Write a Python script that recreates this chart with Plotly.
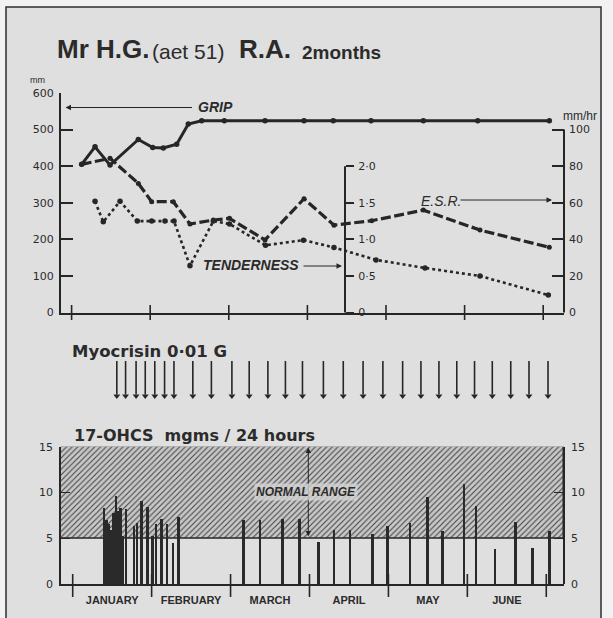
import plotly.graph_objects as go

# ---------------- data ----------------
# x positions are in months after 1 January (0 = 1 Jan, 1 = 1 Feb, ... 6 = 1 Jul)
grip_x = [0.128, 0.298, 0.489, 0.849, 1.032, 1.167, 1.337, 1.485, 1.655, 1.943,
          2.461, 2.957, 3.329, 3.809, 4.475, 5.167, 6.078]
grip_mm = [405, 453, 403, 473, 451, 450, 460, 515, 524, 524,
           524, 524, 524, 524, 524, 524, 524]

esr_x = [0.128, 0.489, 0.849, 1.019, 1.294, 1.506, 1.803, 2.009, 2.461, 2.957,
         3.338, 3.818, 4.475, 5.196, 6.078]
esr_mmhr = [81, 84.3, 70.6, 60.6, 60.6, 48.4, 50.6, 51.5, 39.7, 62.2,
            47.8, 50.2, 56, 45.1, 35.7]

tender_x = [0.298, 0.403, 0.616, 0.836, 1.019, 1.188, 1.303, 1.506, 1.803, 2.009,
            2.467, 2.950, 3.338, 3.873, 4.496, 5.196, 6.065]
tender_idx = [1.52, 1.24, 1.52, 1.25, 1.25, 1.25, 1.25, 0.64, 1.25, 1.21,
              0.92, 0.99, 0.89, 0.72, 0.61, 0.50, 0.24]

myocrisin_x = [0.559, 0.670, 0.803, 0.919, 1.040, 1.164, 1.283, 1.522, 1.757, 2.017,
               2.236, 2.473, 2.695, 2.911, 3.176, 3.428, 3.679, 3.930, 4.180, 4.412,
               4.640, 4.866, 5.091, 5.316, 5.550, 5.781, 6.022]

ohcs_x = [0.397, 0.428, 0.454, 0.485, 0.517, 0.549, 0.574, 0.606, 0.637, 0.675,
          0.777, 0.815, 0.872, 0.948, 1.011, 1.055, 1.125, 1.195, 1.271, 1.340,
          2.161, 2.373, 2.661, 2.871, 3.112, 3.311, 3.513, 3.801, 3.986, 4.273,
          4.498, 4.688, 4.958, 5.110, 5.350, 5.613, 5.828, 6.038]
ohcs_mg = [8.3, 7.0, 6.6, 6.0, 7.8, 9.7, 8.0, 8.4, 5.3, 8.2,
           6.4, 6.7, 9.1, 8.5, 5.3, 6.6, 7.2, 6.6, 4.5, 7.4,
           7.0, 7.0, 7.2, 7.2, 4.6, 5.9, 5.9, 5.5, 6.4, 6.7,
           9.5, 5.8, 11.0, 8.6, 3.9, 6.8, 4.0, 5.8]

normal_range = [5, 15]
month_pos = [0.5, 1.5, 2.5, 3.5, 4.5, 5.5]
month_labels = ["JANUARY", "FEBRUARY", "MARCH", "APRIL", "MAY", "JUNE"]
month_bounds = [0, 1, 2, 3, 4, 5, 6]

grip_ticks = [0, 100, 200, 300, 400, 500, 600]
esr_ticks = [0, 20, 40, 60, 80, 100]
tender_ticks = [0, 0.5, 1.0, 1.5, 2.0]
tender_tick_text = ["0", "0·5", "1·0", "1·5", "2·0"]
ohcs_ticks = [0, 5, 10, 15]

# ---------------- layout geometry (pixels) ----------------
W, H = 613, 618
def PX(x): return x / W
def PY(y): return 1 - y / H

X_L, X_R, X_MID = 61, 564, 345
TOP_X0, TOP_MW = 71.6, 78.6
BOT_X0, BOT_MW = 72.7, 78.93
TOP_Y0, TOP_Y600 = 312.6, 93
BOT_Y0, BOT_Y15 = 584.3, 446.7

top_range = [(X_L - TOP_X0) / TOP_MW, (X_R - TOP_X0) / TOP_MW]
bot_range = [(X_L - BOT_X0) / BOT_MW, (X_R - BOT_X0) / BOT_MW]

INK = '#262626'
TXT = '#2b2b2b'
TICKFONT = dict(family='DejaVu Sans', size=11, color=TXT)

fig = go.Figure()

# ---- top chart ----
fig.add_trace(go.Scatter(x=esr_x, y=esr_mmhr, xaxis='x', yaxis='y2', mode='lines+markers',
                         line=dict(color=INK, width=3.2, dash='10px,3.5px'),
                         marker=dict(size=5, color=INK), hoverinfo='skip'))
fig.add_trace(go.Scatter(x=tender_x, y=tender_idx, xaxis='x', yaxis='y3', mode='lines+markers',
                         line=dict(color=INK, width=2.6, dash='dot'),
                         marker=dict(size=5.5, color=INK), hoverinfo='skip'))
fig.add_trace(go.Scatter(x=grip_x, y=grip_mm, xaxis='x', yaxis='y', mode='lines+markers',
                         line=dict(color=INK, width=3),
                         marker=dict(size=5.5, color=INK), hoverinfo='skip'))

# ---- bottom chart ----
fig.add_trace(go.Bar(x=[(bot_range[0] + bot_range[1]) / 2], y=[normal_range[1] - normal_range[0]],
                     base=[normal_range[0]], width=[bot_range[1] - bot_range[0]],
                     xaxis='x2', yaxis='y4',
                     marker=dict(color='#c8c8c8', line=dict(color=INK, width=1.5),
                                 pattern=dict(shape='/', fgcolor='#454545', bgcolor='#c8c8c8',
                                              size=4, solidity=0.28)),
                     hoverinfo='skip'))
fig.add_trace(go.Bar(x=ohcs_x, y=ohcs_mg, width=0.032, xaxis='x2', yaxis='y4',
                     marker=dict(color='#2a2a2a', line=dict(width=0)), hoverinfo='skip'))
fig.add_trace(go.Scatter(x=[ohcs_x[0]], y=[0], xaxis='x2', yaxis='y5', mode='markers',
                         marker=dict(opacity=0), hoverinfo='skip'))

# ---- myocrisin arrows ----
arr_x, arr_y = [], []
for m in myocrisin_x:
    arr_x += [m, m, None]
    arr_y += [1.0, 0.14, None]
fig.add_trace(go.Scatter(x=arr_x, y=arr_y, xaxis='x2', yaxis='y6', mode='lines',
                         line=dict(color=INK, width=1.6), hoverinfo='skip'))
fig.add_trace(go.Scatter(x=myocrisin_x, y=[0.1] * len(myocrisin_x), xaxis='x2', yaxis='y6',
                         mode='markers', marker=dict(symbol='triangle-down', size=6, color=INK),
                         hoverinfo='skip'))

axis_common = dict(showgrid=False, zeroline=False, fixedrange=True)

fig.update_layout(
    template='none',
    width=W, height=H, margin=dict(l=0, r=0, t=0, b=0),
    paper_bgcolor='#f2f2f2', plot_bgcolor='rgba(0,0,0,0)',
    showlegend=False, hovermode=False, barmode='overlay', bargap=0,
    xaxis=dict(domain=[PX(X_L), PX(X_R)], range=top_range, anchor='y',
               showline=True, linecolor=INK, linewidth=2, ticks='', showticklabels=False,
               **axis_common),
    yaxis=dict(domain=[PY(TOP_Y0), PY(TOP_Y600)], range=[0, 600], anchor='x',
               showline=True, linecolor=INK, linewidth=2,
               ticks='inside', ticklen=12, tickwidth=1.5, tickcolor=INK,
               tickvals=grip_ticks, ticktext=[str(v) for v in grip_ticks],
               tickfont=TICKFONT, ticklabelstandoff=3, **axis_common),
    yaxis2=dict(overlaying='y', side='right', anchor='free', position=PX(X_R),
                range=[0, 120], showline=False,
                ticks='inside', ticklen=12, tickwidth=1.5, tickcolor=INK,
                tickvals=esr_ticks, ticktext=[str(v) for v in esr_ticks],
                tickfont=TICKFONT, ticklabelstandoff=4, **axis_common),
    yaxis3=dict(overlaying='y', side='right', anchor='free', position=PX(X_MID),
                range=[0, 3], showline=False,
                ticks='outside', ticklen=8, tickwidth=1.5, tickcolor=INK,
                tickvals=tender_ticks, ticktext=tender_tick_text,
                tickfont=TICKFONT, ticklabelstandoff=2, **axis_common),
    xaxis2=dict(domain=[PX(X_L), PX(X_R)], range=bot_range, anchor='y4',
                showline=True, linecolor=INK, linewidth=2, ticks='',
                tickvals=month_pos, ticktext=month_labels,
                tickfont=dict(family='Liberation Sans', size=11, color=TXT, weight='bold'),
                ticklabelstandoff=4, **axis_common),
    yaxis4=dict(domain=[PY(BOT_Y0), PY(BOT_Y15)], range=[0, 15], anchor='x2',
                showline=True, linecolor=INK, linewidth=1.5,
                ticks='inside', ticklen=9, tickwidth=1.2, tickcolor=INK,
                tickvals=ohcs_ticks, ticktext=[str(v) for v in ohcs_ticks],
                tickfont=TICKFONT, ticklabelstandoff=4, **axis_common),
    yaxis5=dict(overlaying='y4', side='right', anchor='free', position=PX(X_R),
                range=[0, 15], showline=True, linecolor=INK, linewidth=1.5,
                ticks='inside', ticklen=9, tickwidth=1.2, tickcolor=INK,
                tickvals=ohcs_ticks, ticktext=[str(v) for v in ohcs_ticks],
                tickfont=TICKFONT, ticklabelstandoff=4, **axis_common),
    yaxis6=dict(domain=[PY(400), PY(361)], range=[0, 1], anchor='x2', visible=False,
                **axis_common),
)

# ---------------- decorations ----------------
shapes = []
shapes.append(dict(type='rect', xref='paper', yref='paper', x0=PX(6), y0=PY(7), x1=PX(601), y1=PY(650),
                   fillcolor='#dfdfdf', line=dict(color='#2e2e2e', width=1.5), layer='below'))
top_py = lambda v: TOP_Y0 - v * (TOP_Y0 - TOP_Y600) / 600.0
# ESR axis line (0..100 mm/hr  == 0..500 on grip scale)
shapes.append(dict(type='line', xref='paper', yref='paper', x0=PX(X_R), x1=PX(X_R),
                   y0=PY(TOP_Y0), y1=PY(top_py(500)), line=dict(color=INK, width=2)))
# tenderness axis line (0..2 == 0..400 on grip scale)
shapes.append(dict(type='line', xref='paper', yref='paper', x0=PX(X_MID), x1=PX(X_MID),
                   y0=PY(TOP_Y0), y1=PY(top_py(400)), line=dict(color=INK, width=2)))
for k in month_bounds:
    xt = TOP_X0 + TOP_MW * k
    shapes.append(dict(type='line', xref='paper', yref='paper', x0=PX(xt), x1=PX(xt),
                       y0=PY(305), y1=PY(320), line=dict(color=INK, width=1.6)))
    xb = BOT_X0 + BOT_MW * k
    shapes.append(dict(type='line', xref='paper', yref='paper', x0=PX(xb), x1=PX(xb),
                       y0=PY(574), y1=PY(597), line=dict(color=INK, width=1.6)))
fig.update_layout(shapes=shapes)

def txt(s, x, y, size, family='Liberation Sans', xanchor='left', **kw):
    return dict(text=s, x=PX(x), y=PY(y), xref='paper', yref='paper', xanchor=xanchor,
                yanchor='middle', showarrow=False,
                font=dict(family=family, size=size, color=TXT), **kw)

def arrow(xt, yt, xs, ys, side='end'):
    return dict(text='', x=PX(xt), y=PY(yt), xref='paper', yref='paper',
                ax=xs - xt, ay=ys - yt, axref='pixel', ayref='pixel', showarrow=True,
                arrowhead=2, arrowsize=1.1, arrowwidth=1, arrowcolor=INK, arrowside=side)

ann = [
    txt('<b>Mr H.G.</b>', 55, 49.5, 26),
    txt('(aet 51)', 150, 51.5, 21),
    txt('<b>R.A.</b>', 237, 49.5, 26),
    txt('<b>2months</b>', 300, 52, 19),
    txt('mm', 37.5, 80.5, 9, xanchor='center'),
    txt('mm/hr', 580, 116.5, 12, xanchor='center'),
    txt('<b><i>GRIP</i></b>', 196, 107.5, 14),
    arrow(65.5, 107.5, 193.5, 107.5),
    txt('<b><i>TENDERNESS</i></b>', 200.5, 265.5, 14),
    arrow(342, 266, 302, 266),
    txt('<i>E.S.R.</i>', 419, 201, 14),
    arrow(552, 200, 459, 200),
    txt('<b>Myocrisin 0·01 G</b>', 70, 351, 16.5, family='DejaVu Sans'),
    txt('<b>17-OHCS\u00a0 mgms / 24 hours</b>', 71.5, 435.5, 16, family='DejaVu Sans'),
    arrow(308.3, 447.5, 308.3, 538, side='end+start'),
    txt('<b><i>NORMAL RANGE</i></b>', 306, 491.7, 12, xanchor='center',
        bgcolor='rgba(210,210,210,0.8)', borderpad=1),
]
fig.update_layout(annotations=ann)

fig.write_html("out.html", config={'displayModeBar': False},
               post_script="document.body.style.margin='0';document.body.style.overflow='hidden';")
